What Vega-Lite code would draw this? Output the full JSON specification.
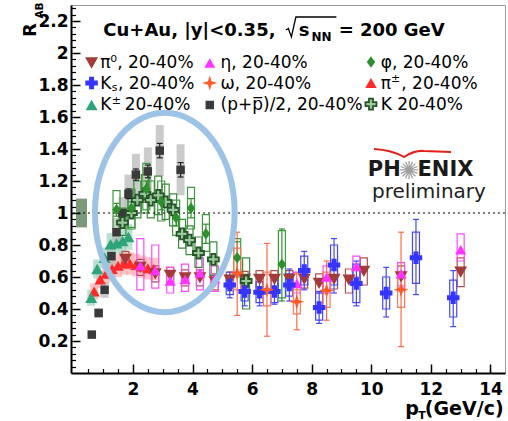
{
  "$schema": "https://vega.github.io/schema/vega-lite/v6.json",
  "width": 434,
  "height": 368,
  "autosize": {"type": "none"},
  "padding": {"left": 71, "top": 5, "right": 3, "bottom": 48},
  "background": "white",
  "config": {"font": "DejaVu Sans", "view": {"stroke": "#9a9a9a", "strokeWidth": 1}},
  "datasets": {
    "norm": [{"x0": 0.09, "x1": 0.46, "y0": 0.91, "y1": 1.09}],
    "pts": [
      {"sp": "pipm", "pt": 0.7, "r": 0.51, "slo": 0.46, "shi": 0.56},
      {"sp": "pipm", "pt": 0.9, "r": 0.585, "slo": 0.53, "shi": 0.64},
      {"sp": "pipm", "pt": 1.1, "r": 0.62, "slo": 0.56, "shi": 0.68},
      {"sp": "pipm", "pt": 1.3, "r": 0.65, "slo": 0.585, "shi": 0.715},
      {"sp": "pipm", "pt": 1.5, "r": 0.67, "slo": 0.6, "shi": 0.74},
      {"sp": "pipm", "pt": 1.7, "r": 0.685, "slo": 0.615, "shi": 0.755},
      {"sp": "pipm", "pt": 1.9, "r": 0.685, "slo": 0.615, "shi": 0.755},
      {"sp": "pipm", "pt": 2.1, "r": 0.675, "slo": 0.605, "shi": 0.745},
      {"sp": "pipm", "pt": 2.3, "r": 0.665, "slo": 0.595, "shi": 0.735},
      {"sp": "pipm", "pt": 2.5, "r": 0.655, "slo": 0.585, "shi": 0.725},
      {"sp": "pipm", "pt": 2.7, "r": 0.65, "slo": 0.58, "shi": 0.72},
      {"sp": "Kpm", "pt": 0.6, "r": 0.47, "slo": 0.42, "shi": 0.52},
      {"sp": "Kpm", "pt": 0.8, "r": 0.65, "slo": 0.59, "shi": 0.71},
      {"sp": "Kpm", "pt": 1.05, "r": 0.72, "slo": 0.655, "shi": 0.785},
      {"sp": "Kpm", "pt": 1.25, "r": 0.805, "slo": 0.735, "shi": 0.875},
      {"sp": "Kpm", "pt": 1.45, "r": 0.81, "slo": 0.74, "shi": 0.88},
      {"sp": "Kpm", "pt": 1.65, "r": 0.825, "slo": 0.75, "shi": 0.9},
      {"sp": "Kpm", "pt": 1.85, "r": 0.85, "slo": 0.77, "shi": 0.93},
      {"sp": "p", "pt": 0.62, "r": 0.24, "lo": 0.23, "hi": 0.25, "slo": 0.22, "shi": 0.26},
      {"sp": "p", "pt": 0.85, "r": 0.375, "lo": 0.365, "hi": 0.385, "slo": 0.345, "shi": 0.405},
      {"sp": "p", "pt": 1.05, "r": 0.52, "lo": 0.51, "hi": 0.53, "slo": 0.47, "shi": 0.57},
      {"sp": "p", "pt": 1.28, "r": 0.73, "lo": 0.715, "hi": 0.745, "slo": 0.66, "shi": 0.8},
      {"sp": "p", "pt": 1.45, "r": 0.88, "lo": 0.86, "hi": 0.9, "slo": 0.79, "shi": 0.97},
      {"sp": "p", "pt": 1.65, "r": 1.0, "lo": 0.98, "hi": 1.02, "slo": 0.9, "shi": 1.1},
      {"sp": "p", "pt": 1.85, "r": 1.12, "lo": 1.09, "hi": 1.15, "slo": 1.0, "shi": 1.24},
      {"sp": "p", "pt": 2.1, "r": 1.24, "lo": 1.205, "hi": 1.275, "slo": 1.11, "shi": 1.37},
      {"sp": "p", "pt": 2.5, "r": 1.26, "lo": 1.22, "hi": 1.3, "slo": 1.11, "shi": 1.41},
      {"sp": "p", "pt": 2.9, "r": 1.39, "lo": 1.345, "hi": 1.435, "slo": 1.23, "shi": 1.55},
      {"sp": "p", "pt": 3.6, "r": 1.27, "lo": 1.225, "hi": 1.315, "slo": 1.11, "shi": 1.43},
      {"sp": "pi0", "pt": 1.75, "r": 0.71, "slo": 0.66, "shi": 0.76},
      {"sp": "pi0", "pt": 2.25, "r": 0.66, "slo": 0.61, "shi": 0.71},
      {"sp": "pi0", "pt": 2.75, "r": 0.62, "slo": 0.57, "shi": 0.67},
      {"sp": "pi0", "pt": 3.25, "r": 0.61, "slo": 0.56, "shi": 0.66},
      {"sp": "pi0", "pt": 3.75, "r": 0.595, "slo": 0.545, "shi": 0.645},
      {"sp": "pi0", "pt": 4.25, "r": 0.595, "slo": 0.545, "shi": 0.645},
      {"sp": "pi0", "pt": 4.75, "r": 0.57, "slo": 0.52, "shi": 0.62},
      {"sp": "pi0", "pt": 5.25, "r": 0.58, "slo": 0.53, "shi": 0.63},
      {"sp": "pi0", "pt": 5.75, "r": 0.585, "slo": 0.535, "shi": 0.635},
      {"sp": "pi0", "pt": 6.25, "r": 0.585, "slo": 0.53, "shi": 0.64},
      {"sp": "pi0", "pt": 6.75, "r": 0.585, "slo": 0.53, "shi": 0.64},
      {"sp": "pi0", "pt": 7.25, "r": 0.585, "slo": 0.53, "shi": 0.64},
      {"sp": "pi0", "pt": 7.75, "r": 0.585, "slo": 0.53, "shi": 0.64},
      {"sp": "pi0", "pt": 8.25, "r": 0.56, "slo": 0.5, "shi": 0.62},
      {"sp": "pi0", "pt": 8.75, "r": 0.585, "slo": 0.525, "shi": 0.645},
      {"sp": "pi0", "pt": 9.25, "r": 0.58, "slo": 0.5, "shi": 0.65},
      {"sp": "pi0", "pt": 9.75, "r": 0.635, "slo": 0.55, "shi": 0.72},
      {"sp": "pi0", "pt": 11, "r": 0.6, "slo": 0.53, "shi": 0.67},
      {"sp": "pi0", "pt": 13, "r": 0.63, "slo": 0.54, "shi": 0.72},
      {"sp": "eta", "pt": 2.25, "r": 0.67, "slo": 0.52, "shi": 0.84},
      {"sp": "eta", "pt": 2.75, "r": 0.64, "slo": 0.53, "shi": 0.8},
      {"sp": "eta", "pt": 3.25, "r": 0.575, "slo": 0.5, "shi": 0.66},
      {"sp": "eta", "pt": 3.75, "r": 0.585, "slo": 0.51, "shi": 0.68},
      {"sp": "eta", "pt": 4.25, "r": 0.625, "slo": 0.52, "shi": 0.72},
      {"sp": "eta", "pt": 4.75, "r": 0.59, "slo": 0.51, "shi": 0.67},
      {"sp": "eta", "pt": 7.5, "r": 0.56, "slo": 0.5, "shi": 0.63},
      {"sp": "eta", "pt": 8.5, "r": 0.6, "slo": 0.5, "shi": 0.67},
      {"sp": "eta", "pt": 9.5, "r": 0.665, "slo": 0.6, "shi": 0.73},
      {"sp": "eta", "pt": 11, "r": 0.62, "slo": 0.545, "shi": 0.69},
      {"sp": "eta", "pt": 13, "r": 0.77, "slo": 0.7, "shi": 0.87},
      {"sp": "K", "pt": 1.65, "r": 0.94, "slo": 0.86, "shi": 1.03},
      {"sp": "K", "pt": 1.95, "r": 1.0, "slo": 0.9, "shi": 1.1},
      {"sp": "K", "pt": 2.15, "r": 1.08, "slo": 0.97, "shi": 1.2},
      {"sp": "K", "pt": 2.4, "r": 1.12, "slo": 1.0, "shi": 1.24},
      {"sp": "K", "pt": 2.6, "r": 1.08, "slo": 0.97, "shi": 1.2},
      {"sp": "K", "pt": 2.85, "r": 1.11, "slo": 0.99, "shi": 1.23},
      {"sp": "K", "pt": 3.1, "r": 1.07, "slo": 0.96, "shi": 1.18},
      {"sp": "K", "pt": 3.35, "r": 1.02, "slo": 0.92, "shi": 1.12},
      {"sp": "K", "pt": 3.65, "r": 0.87, "slo": 0.78, "shi": 0.96},
      {"sp": "K", "pt": 3.9, "r": 0.83, "slo": 0.74, "shi": 0.92},
      {"sp": "K", "pt": 4.2, "r": 0.75, "slo": 0.66, "shi": 0.85},
      {"sp": "K", "pt": 4.7, "r": 0.71, "slo": 0.61, "shi": 0.82},
      {"sp": "K", "pt": 5.8, "r": 0.575, "slo": 0.4, "shi": 0.72},
      {"sp": "phi", "pt": 1.45, "r": 1.02, "lo": 0.98, "hi": 1.06, "slo": 0.9, "shi": 1.14},
      {"sp": "phi", "pt": 1.95, "r": 1.03, "lo": 0.99, "hi": 1.07, "slo": 0.91, "shi": 1.15},
      {"sp": "phi", "pt": 2.45, "r": 1.15, "lo": 1.1, "hi": 1.2, "slo": 1.02, "shi": 1.31},
      {"sp": "phi", "pt": 2.95, "r": 1.07, "lo": 1.02, "hi": 1.12, "slo": 0.95, "shi": 1.2},
      {"sp": "phi", "pt": 3.45, "r": 0.97, "lo": 0.92, "hi": 1.02, "slo": 0.86, "shi": 1.08},
      {"sp": "phi", "pt": 3.95, "r": 1.03, "lo": 0.97, "hi": 1.09, "slo": 0.9, "shi": 1.16},
      {"sp": "phi", "pt": 4.45, "r": 0.87, "lo": 0.81, "hi": 0.93, "slo": 0.76, "shi": 0.99},
      {"sp": "phi", "pt": 5.5, "r": 0.72, "lo": 0.62, "hi": 0.82, "slo": 0.6, "shi": 0.84},
      {"sp": "phi", "pt": 7.0, "r": 0.68, "lo": 0.45, "hi": 0.9, "slo": 0.47, "shi": 0.89},
      {"sp": "Ks", "pt": 5.25, "r": 0.55, "lo": 0.47, "hi": 0.63, "slo": 0.49, "shi": 0.61},
      {"sp": "Ks", "pt": 5.75, "r": 0.51, "lo": 0.42, "hi": 0.6, "slo": 0.45, "shi": 0.58},
      {"sp": "Ks", "pt": 6.25, "r": 0.505, "lo": 0.42, "hi": 0.59, "slo": 0.44, "shi": 0.57},
      {"sp": "Ks", "pt": 6.75, "r": 0.51, "lo": 0.43, "hi": 0.59, "slo": 0.44, "shi": 0.58},
      {"sp": "Ks", "pt": 7.25, "r": 0.55, "lo": 0.45, "hi": 0.65, "slo": 0.48, "shi": 0.62},
      {"sp": "Ks", "pt": 7.75, "r": 0.64, "lo": 0.52, "hi": 0.76, "slo": 0.55, "shi": 0.73},
      {"sp": "Ks", "pt": 8.25, "r": 0.41, "lo": 0.31, "hi": 0.51, "slo": 0.33, "shi": 0.5},
      {"sp": "Ks", "pt": 8.75, "r": 0.675, "lo": 0.5, "hi": 0.84, "slo": 0.55, "shi": 0.8},
      {"sp": "Ks", "pt": 9.5, "r": 0.56, "lo": 0.42, "hi": 0.7, "slo": 0.44, "shi": 0.68},
      {"sp": "Ks", "pt": 10.5, "r": 0.5, "lo": 0.35, "hi": 0.66, "slo": 0.4, "shi": 0.6},
      {"sp": "Ks", "pt": 11.5, "r": 0.72, "lo": 0.49, "hi": 0.96, "slo": 0.56, "shi": 0.88},
      {"sp": "Ks", "pt": 12.75, "r": 0.47, "lo": 0.29, "hi": 0.64, "slo": 0.35, "shi": 0.58},
      {"sp": "omega", "pt": 5.5, "r": 0.625, "lo": 0.36, "hi": 0.88, "slo": 0.52, "shi": 0.78},
      {"sp": "omega", "pt": 6.5, "r": 0.52, "lo": 0.23, "hi": 0.81, "slo": 0.42, "shi": 0.63},
      {"sp": "omega", "pt": 7.5, "r": 0.445, "lo": 0.27, "hi": 0.625, "slo": 0.37, "shi": 0.52},
      {"sp": "omega", "pt": 8.5, "r": 0.515, "lo": 0.33, "hi": 0.7, "slo": 0.41, "shi": 0.63},
      {"sp": "omega", "pt": 11, "r": 0.52, "lo": 0.165, "hi": 0.88, "slo": 0.41, "shi": 0.63}
    ],
    "leg": [
      {"sp": "pi0", "lx": 0.613, "ly": 1.9375},
      {"sp": "Ks", "lx": 0.613, "ly": 1.8125},
      {"sp": "Kpm", "lx": 0.613, "ly": 1.675},
      {"sp": "eta", "lx": 4.58, "ly": 1.9375},
      {"sp": "omega", "lx": 4.58, "ly": 1.8125},
      {"sp": "p", "lx": 4.58, "ly": 1.675},
      {"sp": "phi", "lx": 9.99, "ly": 1.944},
      {"sp": "pipm", "lx": 9.99, "ly": 1.8125},
      {"sp": "K", "lx": 9.99, "ly": 1.681}
    ],
    "labels": [
      {"g": "title", "t": "Cu+Au, |y|<0.35,", "x": 1.007, "y": 2.106},
      {"g": "title", "t": "s", "x": 7.564, "y": 2.106},
      {"g": "title", "t": "= 200 GeV", "x": 8.905, "y": 2.106},
      {"g": "nn", "t": "NN", "x": 7.99, "y": 2.075},
      {"g": "leg", "t": "π⁰, 20-40%", "x": 0.9, "y": 1.906},
      {"g": "leg", "t": "K", "x": 0.9, "y": 1.775},
      {"g": "leg", "t": ", 20-40%", "x": 1.498, "y": 1.775},
      {"g": "leg", "t": "K", "x": 0.9, "y": 1.644},
      {"g": "leg", "t": "20-40%", "x": 1.728, "y": 1.644},
      {"g": "leg", "t": "η, 20-40%", "x": 4.941, "y": 1.906},
      {"g": "leg", "t": "ω, 20-40%", "x": 4.941, "y": 1.775},
      {"g": "leg", "t": "(p+p\u0305)/2, 20-40%", "x": 4.941, "y": 1.644},
      {"g": "leg", "t": "φ, 20-40%", "x": 10.318, "y": 1.906},
      {"g": "leg", "t": "π", "x": 10.318, "y": 1.775},
      {"g": "leg", "t": ", 20-40%", "x": 11.006, "y": 1.775},
      {"g": "leg", "t": "K 20-40%", "x": 10.318, "y": 1.644},
      {"g": "legs", "t": "s", "x": 1.287, "y": 1.7625},
      {"g": "legs", "t": "±", "x": 1.287, "y": 1.681},
      {"g": "legs", "t": "±", "x": 10.66, "y": 1.819},
      {"g": "ytitle", "t": "R", "x": -1.256, "y": 2.1},
      {"g": "ysub", "t": "AB", "x": -1.026, "y": 2.2156},
      {"g": "xtitle", "t": "p", "x": 11.138, "y": -0.2625},
      {"g": "xtitle", "t": "(GeV/c)", "x": 11.797, "y": -0.2625},
      {"g": "xsub", "t": "T", "x": 11.58, "y": -0.2875},
      {"g": "logoR", "t": "PH", "x": 10.99, "y": 1.231},
      {"g": "logoL", "t": "ENIX", "x": 11.55, "y": 1.231},
      {"g": "prelim", "t": "preliminary", "x": 10.023, "y": 1.094}
    ]
  },
  "resolve": {
    "scale": {"fill": "independent", "stroke": "independent", "color": "independent", "shape": "independent"},
    "axis": {"x": "independent", "y": "independent"}
  },
  "layer": [
    {
      "data": {"name": "norm"},
      "mark": {"type": "rect", "color": "#6b8f6b", "opacity": 0.9},
      "encoding": {
        "x": {"field": "x0", "type": "quantitative", "scale": {"domain": [0.09, 14.32], "nice": false, "zero": false},
          "axis": {"orient": "bottom", "values": [2, 4, 6, 8, 10, 12, 14], "format": "d", "labelFont": "DejaVu Sans", "labelFontWeight": "bold", "labelFontSize": 17, "labelColor": "black", "labelPadding": 17, "labelFlush": false, "labelOverlap": false, "tickSize": -9, "tickWidth": 1.5, "tickColor": "black", "domainColor": "black", "domainWidth": 2, "grid": false, "title": null, "zindex": 1}},
        "x2": {"field": "x1"},
        "y": {"field": "y0", "type": "quantitative", "scale": {"domain": [0, 2.3], "nice": false, "zero": false},
          "axis": {"orient": "left", "values": [0.2, 0.4, 0.6, 0.8, 1, 1.2, 1.4, 1.6, 1.8, 2, 2.2], "format": "~g", "labelFont": "DejaVu Sans", "labelFontWeight": "bold", "labelFontSize": 17, "labelColor": "black", "labelPadding": 12, "labelOverlap": false, "labelFlush": false, "tickSize": -9, "tickWidth": 1.5, "tickColor": "black", "domainColor": "black", "domainWidth": 2, "grid": false, "title": null, "zindex": 1}},
        "y2": {"field": "y1"}
      }
    },
    {
      "data": {"name": "pts"},
      "transform": [{"filter": {"field": "sp", "oneOf": ["p", "pipm", "Kpm"]}}],
      "mark": {"type": "bar", "width": 8, "opacity": 0.75},
      "encoding": {
        "x": {"field": "pt", "type": "quantitative", "scale": {"domain": [0.09, 14.32], "nice": false, "zero": false}, "axis": null},
        "y": {"field": "slo", "type": "quantitative", "scale": {"domain": [0, 2.3], "nice": false, "zero": false}, "axis": null},
        "y2": {"field": "shi"},
        "fill": {"field": "sp", "type": "nominal", "scale": {"domain": ["p", "pipm", "Kpm"], "range": ["#b9b9b9", "#ffb0b0", "#a3d8c0"]}, "legend": null}
      }
    },
    {
      "data": {"name": "pts"},
      "transform": [{"filter": {"field": "sp", "oneOf": ["pi0", "eta", "phi", "Ks", "omega", "K"]}}],
      "mark": {"type": "bar", "width": 7, "fill": "transparent", "strokeWidth": 1.2},
      "encoding": {
        "x": {"field": "pt", "type": "quantitative", "scale": {"domain": [0.09, 14.32], "nice": false, "zero": false}, "axis": null},
        "y": {"field": "slo", "type": "quantitative", "scale": {"domain": [0, 2.3], "nice": false, "zero": false}, "axis": null},
        "y2": {"field": "shi"},
        "stroke": {"field": "sp", "type": "nominal", "scale": {"domain": ["pi0", "eta", "phi", "Ks", "omega", "K"], "range": ["#b4504c", "#ff4cff", "#3f9a3f", "#4646ff", "#ff7656", "#3d8a3d"]}, "legend": null}
      }
    },
    {
      "data": {"values": [{}]},
      "mark": {"type": "rule", "strokeDash": [2, 3], "color": "black", "strokeWidth": 1.2},
      "encoding": {
        "y": {"datum": 1, "type": "quantitative", "scale": {"domain": [0, 2.3], "nice": false, "zero": false}, "axis": null}
      }
    },
    {
      "data": {"name": "pts"},
      "transform": [{"filter": "isValid(datum.lo)"}],
      "mark": {"type": "rule", "strokeWidth": 1.2},
      "encoding": {
        "x": {"field": "pt", "type": "quantitative", "scale": {"domain": [0.09, 14.32], "nice": false, "zero": false}, "axis": null},
        "y": {"field": "lo", "type": "quantitative", "scale": {"domain": [0, 2.3], "nice": false, "zero": false}, "axis": null},
        "y2": {"field": "hi"},
        "color": {"field": "sp", "type": "nominal", "scale": {"domain": ["phi", "Ks", "omega", "p"], "range": ["#2f8f2f", "#4646ff", "#ff6a48", "#222222"]}, "legend": null}
      }
    },
    {
      "data": {"name": "pts"},
      "transform": [{"filter": "isValid(datum.lo)"}],
      "mark": {"type": "tick", "orient": "horizontal", "size": 6, "thickness": 1.2, "opacity": 1},
      "encoding": {
        "x": {"field": "pt", "type": "quantitative", "scale": {"domain": [0.09, 14.32], "nice": false, "zero": false}, "axis": null},
        "y": {"field": "lo", "type": "quantitative", "scale": {"domain": [0, 2.3], "nice": false, "zero": false}, "axis": null},
        "color": {"field": "sp", "type": "nominal", "scale": {"domain": ["phi", "Ks", "omega", "p"], "range": ["#2f8f2f", "#4646ff", "#ff6a48", "#222222"]}, "legend": null}
      }
    },
    {
      "data": {"name": "pts"},
      "transform": [{"filter": "isValid(datum.hi)"}],
      "mark": {"type": "tick", "orient": "horizontal", "size": 6, "thickness": 1.2, "opacity": 1},
      "encoding": {
        "x": {"field": "pt", "type": "quantitative", "scale": {"domain": [0.09, 14.32], "nice": false, "zero": false}, "axis": null},
        "y": {"field": "hi", "type": "quantitative", "scale": {"domain": [0, 2.3], "nice": false, "zero": false}, "axis": null},
        "color": {"field": "sp", "type": "nominal", "scale": {"domain": ["phi", "Ks", "omega", "p"], "range": ["#2f8f2f", "#4646ff", "#ff6a48", "#222222"]}, "legend": null}
      }
    },
    {
      "data": {"name": "pts"},
      "mark": {"type": "point", "size": 400, "opacity": 1, "strokeWidth": 1.8},
      "encoding": {
        "x": {"field": "pt", "type": "quantitative", "scale": {"domain": [0.09, 14.32], "nice": false, "zero": false}, "axis": null},
        "y": {"field": "r", "type": "quantitative", "scale": {"domain": [0, 2.3], "nice": false, "zero": false}, "axis": null},
        "shape": {"field": "sp", "type": "nominal", "legend": null, "scale": {
          "domain": ["pi0", "eta", "phi", "Ks", "omega", "pipm", "Kpm", "p", "K"],
          "range": [
            "M -0.65 -0.565 L 0.65 -0.565 L 0 0.565 Z",
            "M -0.55 0.475 L 0.55 0.475 L 0 -0.475 Z",
            "M 0 -0.575 L 0.425 0 L 0 0.575 L -0.425 0 Z",
            "M -0.625 -0.25 L -0.25 -0.25 L -0.25 -0.625 L 0.25 -0.625 L 0.25 -0.25 L 0.625 -0.25 L 0.625 0.25 L 0.25 0.25 L 0.25 0.625 L -0.25 0.625 L -0.25 0.25 L -0.625 0.25 Z",
            "M 0 -0.75 L 0.18 -0.18 L 0.75 0 L 0.18 0.18 L 0 0.75 L -0.18 0.18 L -0.75 0 L -0.18 -0.18 Z",
            "M -0.575 0.5 L 0.575 0.5 L 0 -0.5 Z",
            "M -0.6 0.52 L 0.6 0.52 L 0 -0.52 Z",
            "M -0.425 -0.425 L 0.425 -0.425 L 0.425 0.425 L -0.425 0.425 Z",
            "M -0.55 -0.2 L -0.2 -0.2 L -0.2 -0.55 L 0.2 -0.55 L 0.2 -0.2 L 0.55 -0.2 L 0.55 0.2 L 0.2 0.2 L 0.2 0.55 L -0.2 0.55 L -0.2 0.2 L -0.55 0.2 Z"
          ]}},
        "fill": {"field": "sp", "type": "nominal", "legend": null, "scale": {
          "domain": ["pi0", "eta", "phi", "Ks", "omega", "pipm", "Kpm", "p", "K"],
          "range": ["#a23c3a", "#ff33ff", "#2f8f2f", "#3535ff", "#ff5a28", "#ff2a2a", "#2fa37a", "#3a3a3a", "#9cc79c"]}},
        "stroke": {"field": "sp", "type": "nominal", "legend": null, "scale": {
          "domain": ["pi0", "eta", "phi", "Ks", "omega", "pipm", "Kpm", "p", "K"],
          "range": ["transparent", "transparent", "transparent", "transparent", "transparent", "transparent", "transparent", "transparent", "#27552a"]}}
      }
    },
    {
      "data": {"name": "leg"},
      "mark": {"type": "point", "size": 400, "opacity": 1, "strokeWidth": 1.8},
      "encoding": {
        "x": {"field": "lx", "type": "quantitative", "scale": {"domain": [0.09, 14.32], "nice": false, "zero": false},
          "axis": {"orient": "bottom", "values": [0.5, 1, 1.5, 2.5, 3, 3.5, 4.5, 5, 5.5, 6.5, 7, 7.5, 8.5, 9, 9.5, 10.5, 11, 11.5, 12.5, 13, 13.5, 14], "labels": false, "domain": false, "grid": false, "tickSize": -4.5, "tickWidth": 1.2, "tickColor": "black", "title": null, "zindex": 1}},
        "y": {"field": "ly", "type": "quantitative", "scale": {"domain": [0, 2.3], "nice": false, "zero": false},
          "axis": {"orient": "left", "values": [0.04, 0.08, 0.12, 0.16, 0.24, 0.28, 0.32, 0.36, 0.44, 0.48, 0.52, 0.56, 0.64, 0.68, 0.72, 0.76, 0.84, 0.88, 0.92, 0.96, 1.04, 1.08, 1.12, 1.16, 1.24, 1.28, 1.32, 1.36, 1.44, 1.48, 1.52, 1.56, 1.64, 1.68, 1.72, 1.76, 1.84, 1.88, 1.92, 1.96, 2.04, 2.08, 2.12, 2.16, 2.24, 2.28], "labels": false, "domain": false, "grid": false, "tickSize": -4.5, "tickWidth": 1.2, "tickColor": "black", "title": null, "zindex": 1}},
        "shape": {"field": "sp", "type": "nominal", "legend": null, "scale": {
          "domain": ["pi0", "eta", "phi", "Ks", "omega", "pipm", "Kpm", "p", "K"],
          "range": [
            "M -0.65 -0.565 L 0.65 -0.565 L 0 0.565 Z",
            "M -0.55 0.475 L 0.55 0.475 L 0 -0.475 Z",
            "M 0 -0.575 L 0.425 0 L 0 0.575 L -0.425 0 Z",
            "M -0.625 -0.25 L -0.25 -0.25 L -0.25 -0.625 L 0.25 -0.625 L 0.25 -0.25 L 0.625 -0.25 L 0.625 0.25 L 0.25 0.25 L 0.25 0.625 L -0.25 0.625 L -0.25 0.25 L -0.625 0.25 Z",
            "M 0 -0.75 L 0.18 -0.18 L 0.75 0 L 0.18 0.18 L 0 0.75 L -0.18 0.18 L -0.75 0 L -0.18 -0.18 Z",
            "M -0.575 0.5 L 0.575 0.5 L 0 -0.5 Z",
            "M -0.6 0.52 L 0.6 0.52 L 0 -0.52 Z",
            "M -0.425 -0.425 L 0.425 -0.425 L 0.425 0.425 L -0.425 0.425 Z",
            "M -0.55 -0.2 L -0.2 -0.2 L -0.2 -0.55 L 0.2 -0.55 L 0.2 -0.2 L 0.55 -0.2 L 0.55 0.2 L 0.2 0.2 L 0.2 0.55 L -0.2 0.55 L -0.2 0.2 L -0.55 0.2 Z"
          ]}},
        "fill": {"field": "sp", "type": "nominal", "legend": null, "scale": {
          "domain": ["pi0", "eta", "phi", "Ks", "omega", "pipm", "Kpm", "p", "K"],
          "range": ["#a23c3a", "#ff33ff", "#2f8f2f", "#3535ff", "#ff5a28", "#ff2a2a", "#2fa37a", "#3a3a3a", "#9cc79c"]}},
        "stroke": {"field": "sp", "type": "nominal", "legend": null, "scale": {
          "domain": ["pi0", "eta", "phi", "Ks", "omega", "pipm", "Kpm", "p", "K"],
          "range": ["transparent", "transparent", "transparent", "transparent", "transparent", "transparent", "transparent", "transparent", "#27552a"]}}
      }
    },
    {
      "data": {"values": [{"pt": 3.07, "r": 1.003}]},
      "mark": {"type": "point", "shape": "M 0.7 0 C 0.7 0.5523 0.3866 1 0 1 C -0.3866 1 -0.7 0.5523 -0.7 0 C -0.7 -0.5523 -0.3866 -1 0 -1 C 0.3866 -1 0.7 -0.5523 0.7 0 Z", "size": 39800, "filled": false, "color": "#9dc3e6", "strokeWidth": 6, "opacity": 1},
      "encoding": {
        "x": {"field": "pt", "type": "quantitative", "scale": {"domain": [0.09, 14.32], "nice": false, "zero": false}, "axis": null},
        "y": {"field": "r", "type": "quantitative", "scale": {"domain": [0, 2.3], "nice": false, "zero": false}, "axis": null}
      }
    },
    {
      "data": {"values": [{"pt": 7.99, "r": 2.1625}]},
      "mark": {"type": "point", "shape": "M -1.02 0.12 L -0.92 0.06 L -0.8 0.4 L -0.62 -0.4 L 1 -0.4", "size": 2500, "filled": false, "color": "black", "strokeWidth": 1.3, "opacity": 1},
      "encoding": {
        "x": {"field": "pt", "type": "quantitative", "scale": {"domain": [0.09, 14.32], "nice": false, "zero": false}, "axis": null},
        "y": {"field": "r", "type": "quantitative", "scale": {"domain": [0, 2.3], "nice": false, "zero": false}, "axis": null}
      }
    },
    {
      "data": {"values": [{"pt": 11.367, "r": 1.375}]},
      "mark": {"type": "point", "shape": "M -0.95 -0.1 Q -0.5 -0.075 -0.2 0.1 Q 0.075 -0.075 0.3 -0.05 L 0.975 -0.025", "size": 6400, "filled": false, "color": "#e0201a", "strokeWidth": 2, "opacity": 1},
      "encoding": {
        "x": {"field": "pt", "type": "quantitative", "scale": {"domain": [0.09, 14.32], "nice": false, "zero": false}, "axis": null},
        "y": {"field": "r", "type": "quantitative", "scale": {"domain": [0, 2.3], "nice": false, "zero": false}, "axis": null}
      }
    },
    {
      "data": {"values": [{"pt": 11.269, "r": 1.269}]},
      "mark": {"type": "point", "shape": "M -1 0 L 1 0 M -0.924 -0.383 L 0.924 0.383 M -0.707 -0.707 L 0.707 0.707 M -0.383 -0.924 L 0.383 0.924 M 0 -1 L 0 1 M 0.383 -0.924 L -0.383 0.924 M 0.707 -0.707 L -0.707 0.707 M 0.924 -0.383 L -0.924 0.383", "size": 324, "filled": false, "color": "#a0a0a0", "strokeWidth": 1.3, "opacity": 1},
      "encoding": {
        "x": {"field": "pt", "type": "quantitative", "scale": {"domain": [0.09, 14.32], "nice": false, "zero": false}, "axis": null},
        "y": {"field": "r", "type": "quantitative", "scale": {"domain": [0, 2.3], "nice": false, "zero": false}, "axis": null}
      }
    },
    {
      "data": {"name": "labels"},
      "transform": [{"filter": "datum.g === 'title'"}],
      "mark": {"type": "text", "font": "DejaVu Sans", "fontSize": 18, "fontWeight": "bold", "align": "left", "baseline": "alphabetic", "color": "black"},
      "encoding": {
        "x": {"field": "x", "type": "quantitative", "scale": {"domain": [0.09, 14.32], "nice": false, "zero": false}, "axis": null},
        "y": {"field": "y", "type": "quantitative", "scale": {"domain": [0, 2.3], "nice": false, "zero": false}, "axis": null},
        "text": {"field": "t"}
      }
    },
    {
      "data": {"name": "labels"},
      "transform": [{"filter": "datum.g === 'nn'"}],
      "mark": {"type": "text", "font": "DejaVu Sans", "fontSize": 12, "fontWeight": "bold", "align": "left", "baseline": "alphabetic", "color": "black"},
      "encoding": {
        "x": {"field": "x", "type": "quantitative", "scale": {"domain": [0.09, 14.32], "nice": false, "zero": false}, "axis": null},
        "y": {"field": "y", "type": "quantitative", "scale": {"domain": [0, 2.3], "nice": false, "zero": false}, "axis": null},
        "text": {"field": "t"}
      }
    },
    {
      "data": {"name": "labels"},
      "transform": [{"filter": "datum.g === 'leg'"}],
      "mark": {"type": "text", "font": "DejaVu Sans", "fontSize": 17, "align": "left", "baseline": "alphabetic", "color": "black"},
      "encoding": {
        "x": {"field": "x", "type": "quantitative", "scale": {"domain": [0.09, 14.32], "nice": false, "zero": false}, "axis": null},
        "y": {"field": "y", "type": "quantitative", "scale": {"domain": [0, 2.3], "nice": false, "zero": false}, "axis": null},
        "text": {"field": "t"}
      }
    },
    {
      "data": {"name": "labels"},
      "transform": [{"filter": "datum.g === 'legs'"}],
      "mark": {"type": "text", "font": "DejaVu Sans", "fontSize": 11, "align": "left", "baseline": "alphabetic", "color": "black"},
      "encoding": {
        "x": {"field": "x", "type": "quantitative", "scale": {"domain": [0.09, 14.32], "nice": false, "zero": false}, "axis": null},
        "y": {"field": "y", "type": "quantitative", "scale": {"domain": [0, 2.3], "nice": false, "zero": false}, "axis": null},
        "text": {"field": "t"}
      }
    },
    {
      "data": {"name": "labels"},
      "transform": [{"filter": "datum.g === 'ytitle'"}],
      "mark": {"type": "text", "font": "DejaVu Sans", "fontSize": 18, "fontWeight": "bold", "align": "left", "baseline": "alphabetic", "angle": 270, "color": "black"},
      "encoding": {
        "x": {"field": "x", "type": "quantitative", "scale": {"domain": [0.09, 14.32], "nice": false, "zero": false}, "axis": null},
        "y": {"field": "y", "type": "quantitative", "scale": {"domain": [0, 2.3], "nice": false, "zero": false}, "axis": null},
        "text": {"field": "t"}
      }
    },
    {
      "data": {"name": "labels"},
      "transform": [{"filter": "datum.g === 'ysub'"}],
      "mark": {"type": "text", "font": "DejaVu Sans", "fontSize": 10.5, "fontWeight": "bold", "align": "left", "baseline": "alphabetic", "angle": 270, "color": "black"},
      "encoding": {
        "x": {"field": "x", "type": "quantitative", "scale": {"domain": [0.09, 14.32], "nice": false, "zero": false}, "axis": null},
        "y": {"field": "y", "type": "quantitative", "scale": {"domain": [0, 2.3], "nice": false, "zero": false}, "axis": null},
        "text": {"field": "t"}
      }
    },
    {
      "data": {"name": "labels"},
      "transform": [{"filter": "datum.g === 'xtitle'"}],
      "mark": {"type": "text", "font": "DejaVu Sans", "fontSize": 19, "fontWeight": "bold", "align": "left", "baseline": "alphabetic", "color": "black"},
      "encoding": {
        "x": {"field": "x", "type": "quantitative", "scale": {"domain": [0.09, 14.32], "nice": false, "zero": false}, "axis": null},
        "y": {"field": "y", "type": "quantitative", "scale": {"domain": [0, 2.3], "nice": false, "zero": false}, "axis": null},
        "text": {"field": "t"}
      }
    },
    {
      "data": {"name": "labels"},
      "transform": [{"filter": "datum.g === 'xsub'"}],
      "mark": {"type": "text", "font": "DejaVu Sans", "fontSize": 11, "fontWeight": "bold", "align": "left", "baseline": "alphabetic", "color": "black"},
      "encoding": {
        "x": {"field": "x", "type": "quantitative", "scale": {"domain": [0.09, 14.32], "nice": false, "zero": false}, "axis": null},
        "y": {"field": "y", "type": "quantitative", "scale": {"domain": [0, 2.3], "nice": false, "zero": false}, "axis": null},
        "text": {"field": "t"}
      }
    },
    {
      "data": {"name": "labels"},
      "transform": [{"filter": "datum.g === 'logoR'"}],
      "mark": {"type": "text", "font": "DejaVu Sans", "fontSize": 21, "fontWeight": "bold", "align": "right", "baseline": "alphabetic", "color": "#1a1a1a"},
      "encoding": {
        "x": {"field": "x", "type": "quantitative", "scale": {"domain": [0.09, 14.32], "nice": false, "zero": false}, "axis": null},
        "y": {"field": "y", "type": "quantitative", "scale": {"domain": [0, 2.3], "nice": false, "zero": false}, "axis": null},
        "text": {"field": "t"}
      }
    },
    {
      "data": {"name": "labels"},
      "transform": [{"filter": "datum.g === 'logoL'"}],
      "mark": {"type": "text", "font": "DejaVu Sans", "fontSize": 21, "fontWeight": "bold", "align": "left", "baseline": "alphabetic", "color": "#1a1a1a"},
      "encoding": {
        "x": {"field": "x", "type": "quantitative", "scale": {"domain": [0.09, 14.32], "nice": false, "zero": false}, "axis": null},
        "y": {"field": "y", "type": "quantitative", "scale": {"domain": [0, 2.3], "nice": false, "zero": false}, "axis": null},
        "text": {"field": "t"}
      }
    },
    {
      "data": {"name": "labels"},
      "transform": [{"filter": "datum.g === 'prelim'"}],
      "mark": {"type": "text", "font": "DejaVu Sans", "fontSize": 20, "align": "left", "baseline": "alphabetic", "color": "#222222"},
      "encoding": {
        "x": {"field": "x", "type": "quantitative", "scale": {"domain": [0.09, 14.32], "nice": false, "zero": false}, "axis": null},
        "y": {"field": "y", "type": "quantitative", "scale": {"domain": [0, 2.3], "nice": false, "zero": false}, "axis": null},
        "text": {"field": "t"}
      }
    }
  ]
}
